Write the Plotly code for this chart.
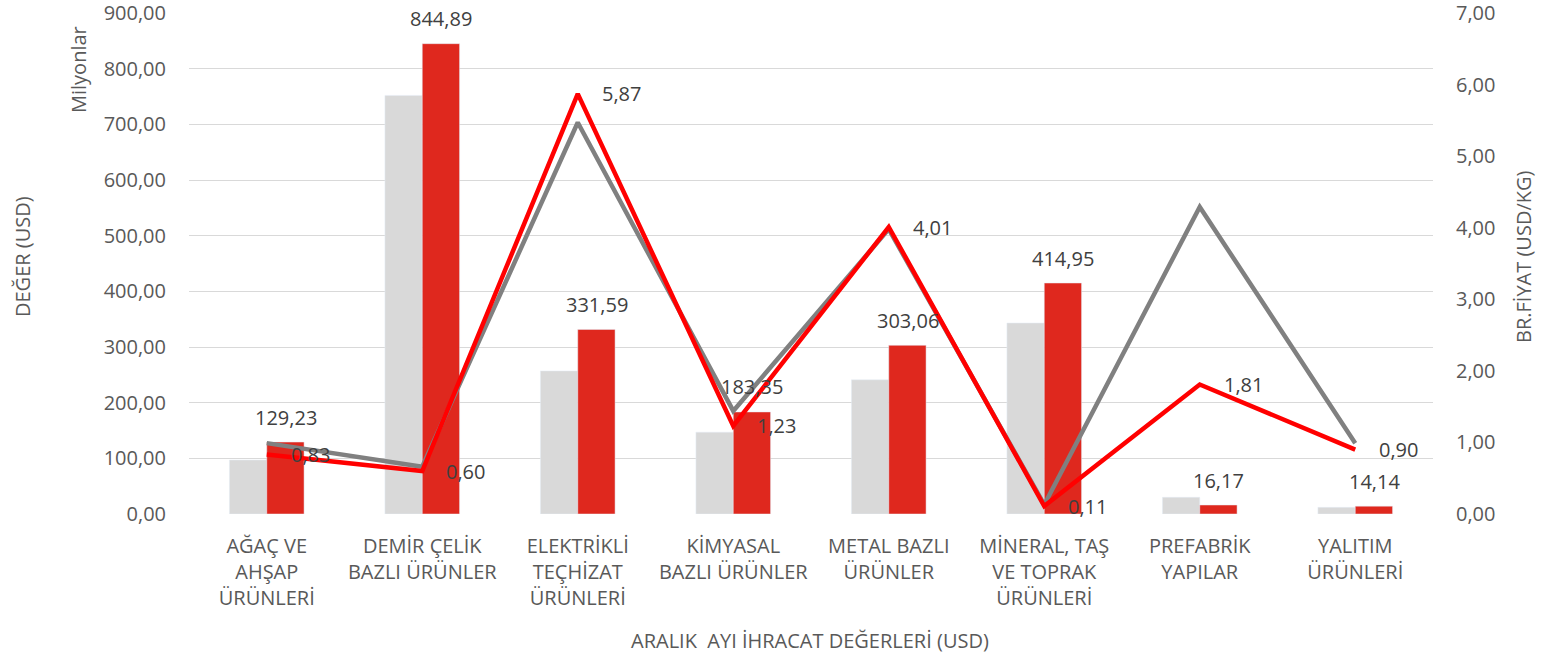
import plotly.graph_objects as go

categories = ["AĞAÇ VE<br>AHŞAP<br>ÜRÜNLERİ", "DEMİR ÇELİK<br>BAZLI ÜRÜNLER", "ELEKTRİKLİ<br>TEÇHİZAT<br>ÜRÜNLERİ",
              "KİMYASAL<br>BAZLI ÜRÜNLER", "METAL BAZLI<br>ÜRÜNLER", "MİNERAL, TAŞ<br>VE TOPRAK<br>ÜRÜNLERİ",
              "PREFABRİK<br>YAPILAR", "YALITIM<br>ÜRÜNLERİ"]
value_prev = [97, 752, 257, 147, 241, 343, 30, 12]
value_curr = [129.23, 844.89, 331.59, 183.35, 303.06, 414.95, 16.17, 14.14]
price_prev = [0.99, 0.66, 5.47, 1.44, 3.98, 0.13, 4.29, 0.99]
price_curr = [0.83, 0.60, 5.87, 1.23, 4.01, 0.11, 1.81, 0.90]

FONT = "Open Sans"
TXT = "#595959"
FS = 20

fig = go.Figure()
fig.add_trace(go.Bar(x=categories, y=value_prev, marker_color="#D9D9D9", name="prev", yaxis="y"))
fig.add_trace(go.Bar(x=categories, y=value_curr, marker_color="#DF281E", name="curr", yaxis="y"))
fig.add_trace(go.Scatter(x=categories, y=price_prev, mode="lines", line=dict(color="#808080", width=4.5),
                         yaxis="y2", name="prev price"))
fig.add_trace(go.Scatter(x=categories, y=price_curr, mode="lines", line=dict(color="#FF0000", width=4.5),
                         yaxis="y2", name="curr price"))

ann = []
for i, v in enumerate(value_curr):
    ann.append(dict(x=i, y=v, xref="x", yref="y", text=f"{v:.2f}".replace(".", ","), showarrow=False,
                    xshift=19, yshift=25, font=dict(family=FONT, size=FS, color="#404040")))
for i, v in enumerate(price_curr):
    ann.append(dict(x=i, y=v, xref="x", yref="y2", text=f"{v:.2f}".replace(".", ","), showarrow=False,
                    xanchor="left", xshift=22, font=dict(family=FONT, size=FS, color="#404040")))
titles = [
    dict(text="DEĞER (USD)", x=22, y=257, textangle=-90),
    dict(text="Milyonlar", x=78, y=70, textangle=-90),
    dict(text="BR.FİYAT (USD/KG)", x=1523, y=257, textangle=-90),
    dict(text="ARALIK  AYI İHRACAT DEĞERLERİ (USD)", x=810, y=640, textangle=0),
]
W, H = 1549, 659
L, R, T, B = 189, 1433, 13, 514
for a in titles:
    a.update(xref="paper", yref="paper", showarrow=False, xanchor="center", yanchor="middle",
             font=dict(family=FONT, size=FS, color=TXT))
    a["x"] = (a["x"] - L) / (R - L)
    a["y"] = (B - a["y"]) / (B - T)
    ann.append(a)

fig.update_layout(
    width=W, height=H, margin=dict(l=L, r=W - R, t=T, b=H - B, pad=0),
    paper_bgcolor="white", plot_bgcolor="white", showlegend=False,
    barmode="group", bargap=0.52, bargroupgap=0,
    separators=",.",
    font=dict(family=FONT, size=FS, color=TXT),
    annotations=ann,
    xaxis=dict(showgrid=False, zeroline=False, showline=False, ticks="", automargin=False,
               ticklabelstandoff=18, tickfont=dict(size=FS, color=TXT)),
    yaxis=dict(range=[0, 900], dtick=100, tickformat=".2f", showgrid=True, gridcolor="#D9D9D9", gridwidth=1,
               zeroline=False, ticks="", automargin=False, ticklabelstandoff=22, ticklabeloverflow="allow",
               tickfont=dict(size=FS, color=TXT)),
    yaxis2=dict(range=[0, 7], dtick=1, tickformat=".2f", overlaying="y", side="right", showgrid=False,
                zeroline=False, ticks="", automargin=False, ticklabelstandoff=22, ticklabeloverflow="allow",
                tickfont=dict(size=FS, color=TXT)),
)
fig.write_html("out.html", config={"displayModeBar": False},
               post_script="document.body.style.margin='0';document.body.style.overflow='hidden';")
